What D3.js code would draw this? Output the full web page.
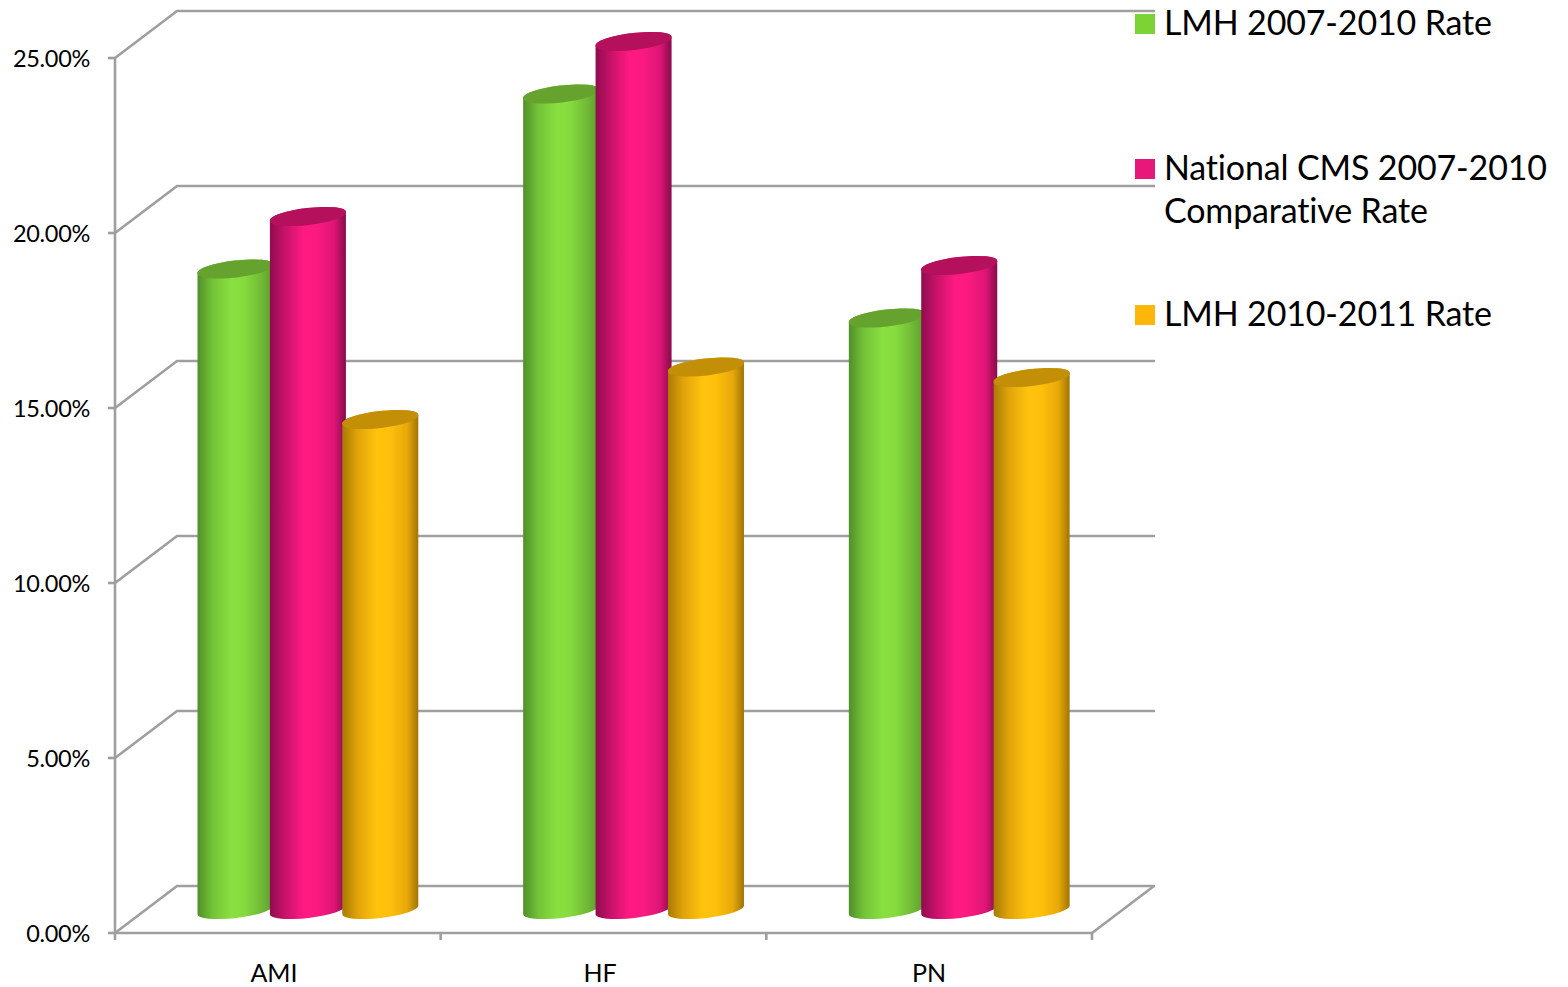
<!DOCTYPE html>
<html>
<head>
<meta charset="utf-8">
<script src="https://cdn.jsdelivr.net/npm/d3@7/dist/d3.min.js"></script>
<style>
  html, body { margin: 0; padding: 0; background: #fff; }
  text { font-family: Lato, "Noto Sans", sans-serif; fill: #000; }
</style>
</head>
<body>
<script>
// Readmission rates by condition, in percent
const categories = ["AMI", "HF", "PN"];
const seriesNames = ["LMH 2007-2010 Rate", "National CMS 2007-2010 Comparative Rate", "LMH 2010-2011 Rate"];
const lmh2007 = [18.3, 23.3, 16.9];
const national = [19.8, 24.8, 18.4];
const lmh2010 = [14.0, 15.5, 15.2];
const yTicks = [0, 5, 10, 15, 20, 25];

const width = 1568, height = 987;

// Front plane of the 3D box, plus the offset of the back wall
const x = d3.scaleBand().domain(categories).range([115, 1092]);
const y = d3.scaleLinear().domain([0, 25]).range([933, 58]);
const depth = { dx: 62, dy: -47 };
const axisColor = "#9f9f9f";

const svg = d3.select("body").append("svg")
  .attr("width", width).attr("height", height)
  .style("display", "block");

const defs = svg.append("defs");

// Cylinder shading: dark edges with a highlight a little left of centre
const palettes = [
  { side: ["#4f8f2a", "#74c338", "#8ae040", "#86da3e", "#6fb835", "#5c9a2d"], cap: "#66a22e", key: "#7dd334" },
  { side: ["#8f0c4e", "#c8126a", "#ff1a82", "#fb1a80", "#dc1574", "#860b49"], cap: "#b4105c", key: "#e8177a" },
  { side: ["#a87a05", "#e0a30a", "#ffc30d", "#ffc00c", "#e8a90a", "#a07404"], cap: "#c28f06", key: "#ffb60a" }
];
const stopsAt = [0, 0.2, 0.45, 0.62, 0.85, 1];
palettes.forEach((p, i) => {
  const g = defs.append("linearGradient").attr("id", "cyl" + i)
    .attr("x1", "0%").attr("x2", "100%").attr("y1", "0%").attr("y2", "0%");
  p.side.forEach((c, j) => g.append("stop").attr("offset", stopsAt[j]).attr("stop-color", c));
});

// Back wall gridlines and the left wall diagonals
const axes = svg.append("g").attr("fill", "none").attr("stroke", axisColor).attr("stroke-width", 2.6);
yTicks.forEach(t => {
  const yy = y(t);
  axes.append("path").attr("d", d3.line()([
    [x.range()[0], yy],
    [x.range()[0] + depth.dx, yy + depth.dy],
    [x.range()[1] + depth.dx + 1, yy + depth.dy]
  ]));
  axes.append("line").attr("x1", x.range()[0] - 7).attr("x2", x.range()[0])
    .attr("y1", yy).attr("y2", yy);
});
// Right edge of the floor
axes.append("line")
  .attr("x1", x.range()[1]).attr("y1", y(0))
  .attr("x2", x.range()[1] + depth.dx).attr("y2", y(0) + depth.dy);
// Front axes
axes.append("line").attr("x1", x.range()[0]).attr("x2", x.range()[0])
  .attr("y1", y(25)).attr("y2", y(0) + 7);
axes.append("line").attr("x1", x.range()[0]).attr("x2", x.range()[1])
  .attr("y1", y(0)).attr("y2", y(0));
categories.forEach(c => {
  const xx = x(c) + x.bandwidth();
  axes.append("line").attr("x1", xx).attr("x2", xx).attr("y1", y(0)).attr("y2", y(0) + 7);
});

// Cylinders, left to right so each one overlaps its left neighbour
const columns = [lmh2007, national, lmh2010];
const barW = 76, barStep = 72.4, barInset = 82.5;
const rx = 38.3, ry = 8.1, tilt = -6.75;
const lift = Math.sin(-tilt * Math.PI / 180) * rx;
const midDepth = { dx: depth.dx / 2, dy: depth.dy / 2 };
// Half-ellipse segment: rotation, large-arc flag, sweep flag, end point
const arc = (sweep, ex, ey) => `A${rx},${ry} ${tilt} 1 ${sweep} ${ex},${ey}`;

categories.forEach((c, ci) => {
  columns.forEach((vals, si) => {
    const left = x(c) + barInset + si * barStep;
    const right = left + barW;
    const topY = y(vals[ci]) + midDepth.dy;
    const baseY = y(0) + midDepth.dy;
    const g = svg.append("g");
    g.append("path")
      .attr("fill", `url(#cyl${si})`)
      .attr("d", `M${left},${topY + lift}L${left},${baseY + lift}` +
        arc(0, right, baseY - lift) +
        `L${right},${topY - lift}` +
        arc(0, left, topY + lift) + "Z");
    g.append("path")
      .attr("fill", palettes[si].cap)
      .attr("d", `M${left},${topY + lift}` +
        arc(1, right, topY - lift) +
        arc(1, left, topY + lift) + "Z");
  });
});

// Value axis labels
svg.append("g").selectAll("text").data(yTicks).join("text")
  .attr("x", 90).attr("y", d => y(d) + 9)
  .attr("text-anchor", "end").attr("font-size", 23.5).attr("letter-spacing", -0.3)
  .text(d => d3.format(".2f")(d) + "%");

// Category labels
svg.append("g").selectAll("text").data(categories).join("text")
  .attr("x", (d, i) => [274, 600, 929][i]).attr("y", 982)
  .attr("text-anchor", "middle").attr("font-size", 25)
  .text(d => d);

// Legend
const legendRows = [
  { lines: [seriesNames[0]], top: 14 },
  { lines: ["National CMS 2007-2010", "Comparative Rate"], top: 159 },
  { lines: [seriesNames[2]], top: 305 }
];
legendRows.forEach((row, i) => {
  svg.append("rect").attr("x", 1135).attr("y", row.top)
    .attr("width", 20).attr("height", 20).attr("fill", palettes[i].key);
  row.lines.forEach((ln, j) => {
    svg.append("text").attr("x", 1164).attr("y", row.top + 21 + j * 43)
      .attr("font-size", 34).attr("letter-spacing", -0.15).text(ln);
  });
});
</script>
</body>
</html>
